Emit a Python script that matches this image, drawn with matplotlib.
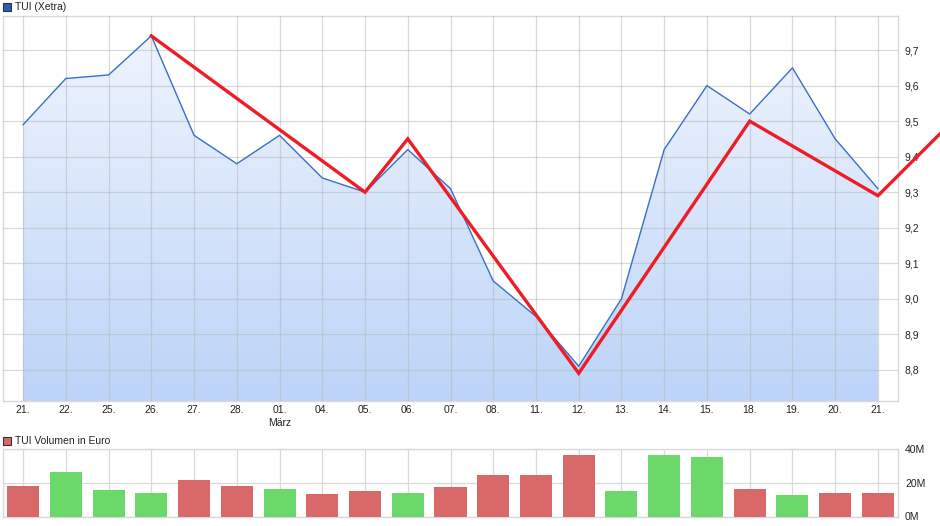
import matplotlib
matplotlib.use('Agg')
import matplotlib.pyplot as plt
import matplotlib.patches as mpatches
from matplotlib.colors import LinearSegmentedColormap
from matplotlib.ticker import FixedLocator, FuncFormatter
import numpy as np

plt.rcParams['font.family'] = ['Liberation Sans', 'DejaVu Sans']

# ── Data ──────────────────────────────────────────────────────────────────
dates = ['21.', '22.', '25.', '26.', '27.', '28.', '01.\nMärz', '04.', '05.', '06.',
         '07.', '08.', '11.', '12.', '13.', '14.', '15.', '18.', '19.', '20.', '21.']
price = [9.49, 9.62, 9.63, 9.74, 9.46, 9.38, 9.46, 9.34, 9.30, 9.42,
         9.31, 9.05, 8.95, 8.81, 9.00, 9.42, 9.60, 9.52, 9.65, 9.45, 9.31]
# zigzag trend line (index, value); last point lies beyond the plot area
zz_idx = [3, 8, 9, 13, 17, 20, 22]
zz_val = [9.74, 9.30, 9.45, 8.79, 9.50, 9.29, 9.53]
volume = [18.2, 26.6, 15.8, 14.0, 21.8, 18.2, 16.4, 13.4, 15.2, 14.0,
          17.6, 24.8, 24.8, 36.7, 15.2, 36.7, 35.5, 16.4, 12.8, 14.0, 14.0]  # Mio. Euro
vol_up = [0, 1, 1, 1, 0, 0, 1, 0, 0, 1, 0, 0, 0, 0, 1, 1, 1, 0, 1, 0, 0]

# ── Colors ────────────────────────────────────────────────────────────────
LINEC = '#3a6fc8'
ZZC   = '#ee1c25'
GRIDC = '#d9d9d9'
UPC   = '#6ad96a'
DNC   = '#d96868'
TXT   = '#222222'

W, H = 940, 526
fig = plt.figure(figsize=(W / 100, H / 100), dpi=100)
fig.patch.set_facecolor('white')

def px_box(x0, y0, x1, y1):
    return [x0 / W, 1 - y1 / H, (x1 - x0) / W, (y1 - y0) / H]

x = np.arange(len(price))

# ── Price panel ───────────────────────────────────────────────────────────
ax = fig.add_axes(px_box(3, 16, 898, 401))
ax.set_xlim(-0.47, 20.47)
ax.set_ylim(8.712, 9.796)

cmap = LinearSegmentedColormap.from_list('fillgrad', ['#bcd4f8', '#f2f6fe'])
grad = np.linspace(0, 1, 256).reshape(-1, 1)
im = ax.imshow(grad, cmap=cmap, aspect='auto', origin='lower',
               extent=[x[0], x[-1], 8.712, 9.796], zorder=1)
poly = mpatches.Polygon(np.column_stack([np.r_[x[0], x, x[-1]],
                                         np.r_[8.712, price, 8.712]]),
                        closed=True, facecolor='none', edgecolor='none')
ax.add_patch(poly)
im.set_clip_path(poly)

ax.plot(x, price, color=LINEC, lw=1.0, zorder=3)
ax.plot(zz_idx, zz_val, color=ZZC, lw=2.4, zorder=4, clip_on=False,
        solid_joinstyle='miter')

ax.xaxis.set_major_locator(FixedLocator(x))
ax.set_xticklabels(dates, fontsize=7.5, color=TXT, linespacing=1.3)
ax.yaxis.set_major_locator(FixedLocator(np.arange(8.8, 9.75, 0.1)))
ax.yaxis.set_major_formatter(FuncFormatter(lambda v, p: f'{v:.1f}'.replace('.', ',')))
ax.yaxis.tick_right()
ax.tick_params(axis='both', length=0, labelsize=7.5, labelcolor=TXT)
ax.tick_params(axis='y', pad=5)
ax.tick_params(axis='x', pad=3)
ax.grid(True, color='#b5b5b5', alpha=0.5, lw=0.9, zorder=2)
ax.set_axisbelow(False)
for s in ax.spines.values():
    s.set_color(GRIDC)
    s.set_linewidth(1.0)

# ── Volume panel ──────────────────────────────────────────────────────────
axv = fig.add_axes(px_box(3, 449, 898, 516.5))
axv.set_xlim(-0.47, 20.47)
axv.set_ylim(0, 40)
axv.bar(x, volume, width=0.75, color=[UPC if u else DNC for u in vol_up], zorder=3)
axv.xaxis.set_major_locator(FixedLocator(x))
axv.set_xticklabels([])
axv.yaxis.set_major_locator(FixedLocator([0, 20, 40]))
axv.yaxis.set_major_formatter(FuncFormatter(lambda v, p: f'{v:.0f}M'))
axv.yaxis.tick_right()
axv.tick_params(axis='both', length=0, labelsize=7.5, labelcolor=TXT)
axv.tick_params(axis='y', pad=5)
axv.grid(True, color=GRIDC, lw=0.9, zorder=0)
axv.set_axisbelow(True)
for s in axv.spines.values():
    s.set_color(GRIDC)
    s.set_linewidth(1.0)

# ── Legend-like headers ───────────────────────────────────────────────────
def header(y_px, text, fc):
    fig.add_artist(mpatches.Rectangle((3 / W, 1 - (y_px + 4.5) / H), 8 / W, 8 / H,
                                      transform=fig.transFigure, facecolor=fc,
                                      edgecolor='#333333', lw=0.8))
    fig.text(15 / W, 1 - y_px / H, text, fontsize=7.5, color=TXT, va='center', ha='left')

header(6.5, 'TUI (Xetra)', '#2a5cbf')
header(440.5, 'TUI Volumen in Euro', DNC)

fig.savefig('out.png', dpi=100)
